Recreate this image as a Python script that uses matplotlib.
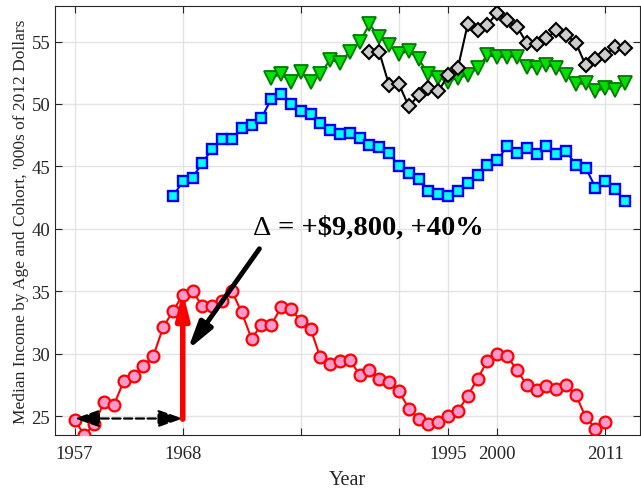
import numpy as np
import matplotlib
matplotlib.use("Agg")
import matplotlib.pyplot as plt

# Median income by age cohort, '000s of 2012 dollars
years_red = list(range(1957, 2012))
income_red = [24.7, 23.45, 24.4, 26.1, 25.9, 27.8, 28.2, 29.0, 29.8, 32.1,
              33.4, 34.7, 35.0, 33.8, 33.8, 34.2, 35.0, 33.3, 31.2, 32.3,
              32.3, 33.7, 33.6, 32.6, 32.0, 29.7, 29.2, 29.4, 29.5, 28.3,
              28.7, 28.0, 27.7, 27.0, 25.6, 24.8, 24.4, 24.5, 25.0, 25.4,
              26.6, 28.0, 29.4, 30.0, 29.8, 28.7, 27.5, 27.1, 27.4, 27.2,
              27.5, 26.7, 24.9, 24.0, 24.5]

years_blue = list(range(1967, 2014))
income_blue = [42.6, 43.8, 44.1, 45.3, 46.4, 47.2, 47.2, 48.1, 48.3, 48.85,
               50.4, 50.8, 50.0, 49.4, 49.2, 48.5, 47.9, 47.6, 47.7, 47.25,
               46.75, 46.55, 46.05, 45.05, 44.5, 44.0, 43.05, 42.75, 42.65, 43.05,
               43.7, 44.3, 45.15, 45.5, 46.6, 46.1, 46.5, 46.0, 46.6, 46.0,
               46.2, 45.15, 44.9, 43.3, 43.8, 43.15, 42.25]

years_green = list(range(1977, 2014))
income_green = [52.1, 52.4, 51.8, 52.55, 51.8, 52.4, 53.55, 53.3, 54.2, 54.95,
                56.4, 55.35, 54.75, 54.0, 54.25, 53.6, 52.4, 52.1, 51.8, 52.1,
                52.3, 52.9, 53.9, 53.75, 53.8, 53.8, 53.0, 52.9, 53.15, 52.9,
                52.35, 51.6, 51.65, 51.0, 51.3, 51.15, 51.65]

years_black = list(range(1987, 2014))
income_black = [54.2, 54.15, 51.5, 51.6, 49.8, 50.7, 51.3, 51.0, 52.3, 52.9,
                56.4, 55.9, 56.35, 57.3, 56.7, 56.2, 54.9, 54.8, 55.25, 55.9,
                55.55, 54.9, 53.1, 53.6, 53.9, 54.6, 54.5]

xtick_pos = [1957, 1968, 1980, 1990, 1995, 2000, 2011]
xtick_lab = ['1957', '1968', '', '', '1995', '2000', '2011']
ytick_pos = [25, 30, 35, 40, 45, 50, 55]

plt.rcParams['font.family'] = ['Liberation Serif', 'DejaVu Serif']

fig = plt.figure(figsize=(6.41, 4.89), dpi=100)
ax = fig.add_axes([0.0858, 0.1084, 0.9122, 0.8773])

ax.plot(years_red, income_red, '-o', color='red', lw=1.5, ms=8.5,
        mfc='#ff99cc', mec='red', mew=1.6, zorder=3)
ax.plot(years_blue, income_blue, '-s', color='blue', lw=1.5, ms=7.5,
        mfc='cyan', mec='blue', mew=1.7, zorder=3)
ax.plot(years_green, income_green, '-v', color='#007a00', lw=1.5, ms=10,
        mfc='#00e000', mec='#007a00', mew=1.3, zorder=3)
ax.plot(years_black, income_black, '-D', color='black', lw=1.5, ms=7.5,
        mfc='#cccccc', mec='black', mew=1.5, zorder=4)

# annotations: cohort gap and 1968 gain
ax.annotate('', xy=(1957, 24.8), xytext=(1968, 24.8),
            arrowprops=dict(arrowstyle='<|-|>,head_length=1.0,head_width=0.35',
                            ls='--', lw=1.6, color='black', mutation_scale=15,
                            shrinkA=0, shrinkB=0), zorder=5)
ax.annotate('', xy=(1968, 35.0), xytext=(1968, 24.75),
            arrowprops=dict(arrowstyle='-|>,head_length=1.0,head_width=0.25',
                            lw=4, color='red', mutation_scale=15,
                            shrinkA=0, shrinkB=0), zorder=5)
ax.annotate('', xy=(1968.5, 30.3), xytext=(1975.8, 38.4),
            arrowprops=dict(arrowstyle='-|>,head_length=1.1,head_width=0.3',
                            lw=3.5, color='black', mutation_scale=15,
                            shrinkA=0, shrinkB=0), zorder=5)
delta = ax.text(1975.1, 40.1, '\u0394', fontsize=20.5,
                ha='left', va='center', zorder=6)
ax.annotate(' = +$9,800, +40%', xy=(1, 0.5), xycoords=delta,
            fontsize=20.5, fontweight='bold', ha='left', va='center', zorder=6)

ax.set_xlim(1955, 2014.5)
ax.set_ylim(23.48, 57.85)
ax.set_xticks(xtick_pos)
ax.set_xticklabels(xtick_lab)
ax.set_yticks(ytick_pos)
ax.grid(True, color='#e3e3e3', lw=1)
ax.set_axisbelow(True)
ax.tick_params(direction='in', top=True, right=True, labelsize=13.5,
               length=5, colors='#262626', labelcolor='#262626')
ax.tick_params(axis='x', pad=7)
for s in ax.spines.values():
    s.set_color('#262626')
ax.set_xlabel('Year', fontsize=14.5, color='#262626', labelpad=6)
ax.set_ylabel("Median Income by Age and Cohort, '000s of 2012 Dollars",
              fontsize=12.5, color='#262626', labelpad=2)

fig.savefig('out.png', dpi=100)
